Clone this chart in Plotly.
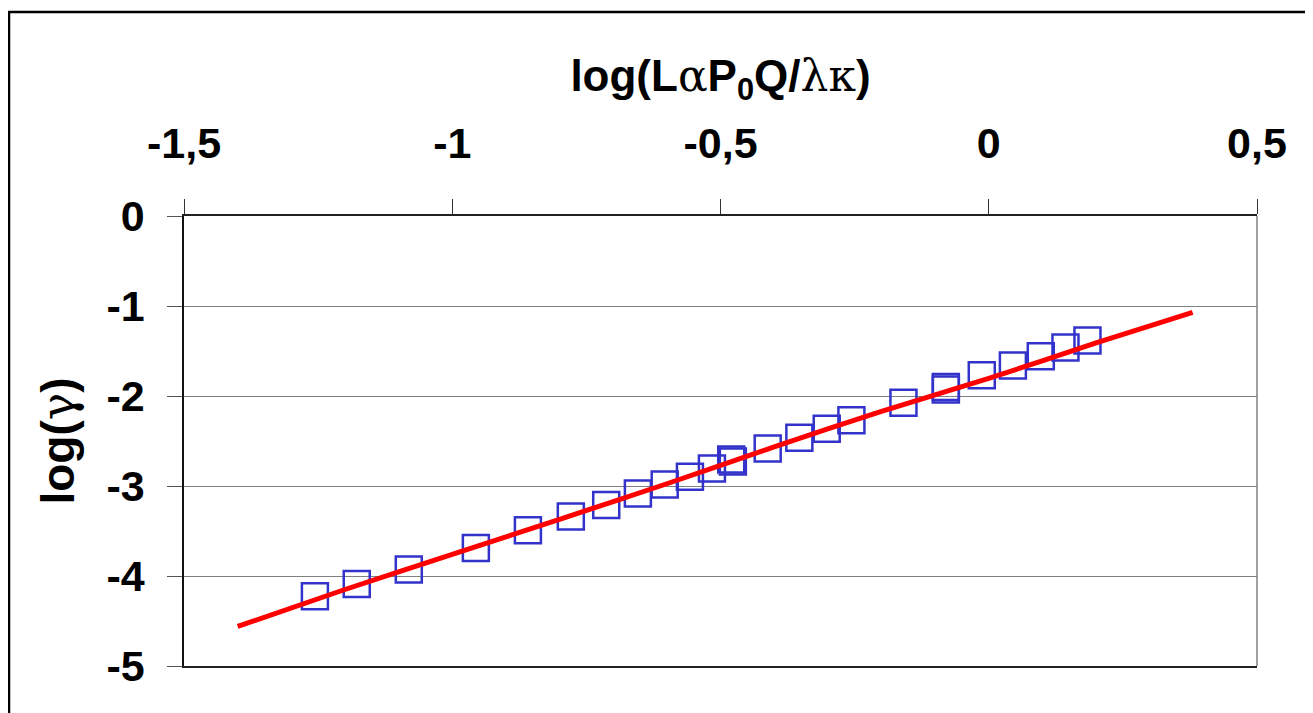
import plotly.graph_objects as go

# Measured data (squares)
x_data = [-1.256, -1.178, -1.081, -0.956, -0.859, -0.779, -0.713, -0.654, -0.604,
          -0.557, -0.516, -0.480, -0.477, -0.412, -0.353, -0.302, -0.256, -0.159,
          -0.080, -0.080, -0.013, 0.045, 0.097, 0.143, 0.184]
y_data = [-4.225, -4.089, -3.928, -3.690, -3.491, -3.339, -3.210, -3.083, -2.983,
          -2.896, -2.805, -2.705, -2.727, -2.582, -2.465, -2.365, -2.270, -2.074,
          -1.901, -1.929, -1.770, -1.660, -1.557, -1.462, -1.382]

# Fitted curve (red line)
x_fit = [-1.40, -1.20, -1.00, -0.80, -0.60, -0.40, -0.20, 0.00, 0.20, 0.38]
y_fit = [-4.56, -4.15, -3.76, -3.37, -2.975, -2.565, -2.17, -1.805, -1.41, -1.07]

x_ticks = [-1.5, -1.0, -0.5, 0.0, 0.5]
x_ticktext = ["-1,5", "-1", "-0,5", "0", "0,5"]
y_ticks = [0, -1, -2, -3, -4, -5]
y_ticktext = ["0", "-1", "-2", "-3", "-4", "-5"]

FONT = "Liberation Sans, Arial, sans-serif"
GREEK = "font-family:DejaVu Serif;font-weight:normal"

fig = go.Figure()
fig.add_trace(go.Scatter(
    x=x_data, y=y_data, mode="markers",
    marker=dict(symbol="square-open", size=26, color="#3333CC",
                line=dict(width=2.5, color="#3333CC")),
    showlegend=False, cliponaxis=False))
fig.add_trace(go.Scatter(
    x=x_fit, y=y_fit, mode="lines",
    line=dict(color="#FF0000", width=5, shape="spline", smoothing=0.6),
    showlegend=False))

xtitle = ("<b>log(L</b><span style=\"" + GREEK + "\">α</span><b>P<sub>0</sub>Q/</b>"
          "<span style=\"" + GREEK + "\">λκ</span><b>)</b>")
ytitle = "<b>log(</b><span style=\"" + GREEK + "\">γ</span><b>)</b>"

# page body adds an 8px offset; margins compensate so the plot area sits at
# x 184..1257, y 216..666 in the screenshot
fig.update_layout(
    width=1313, height=713,
    margin=dict(l=176, r=64, t=208, b=55),
    paper_bgcolor="white", plot_bgcolor="white",
    font=dict(family=FONT, color="black", size=40),
    xaxis=dict(
        side="top", range=[-1.5, 0.5], tickvals=x_ticks, ticktext=x_ticktext,
        showgrid=False, zeroline=False, showline=True, linecolor="#222",
        linewidth=1.5, mirror=True, ticks="outside", ticklen=15, tickwidth=1.2,
        tickcolor="#333", ticklabelstandoff=24,
        tickfont=dict(size=43, family=FONT, weight="bold", color="black"),
        title=dict(text=xtitle, font=dict(size=44, family=FONT, color="black"),
                   standoff=14),
    ),
    yaxis=dict(
        range=[-5, 0], tickvals=y_ticks, ticktext=y_ticktext,
        showgrid=True, gridcolor="#808080", gridwidth=1.3, zeroline=False,
        showline=True, linecolor="#111", linewidth=1.5,
        ticks="outside", ticklen=15, tickwidth=1.2, tickcolor="#555",
        ticklabelstandoff=14,
        tickfont=dict(size=43, family=FONT, weight="bold", color="black"),
        title=dict(text=ytitle, font=dict(size=46, family=FONT, color="black"),
                   standoff=17),
    ),
    shapes=[
        dict(type="line", xref="paper", yref="paper", x0=1, x1=1, y0=0, y1=1,
             line=dict(color="#808080", width=1.5)),
        dict(type="rect", xref="paper", yref="paper",
             x0=-0.1631, x1=1.07, y0=-0.14, y1=1.4533,
             line=dict(color="black", width=2.5), layer="above"),
    ],
)

fig.write_html("out.html")
